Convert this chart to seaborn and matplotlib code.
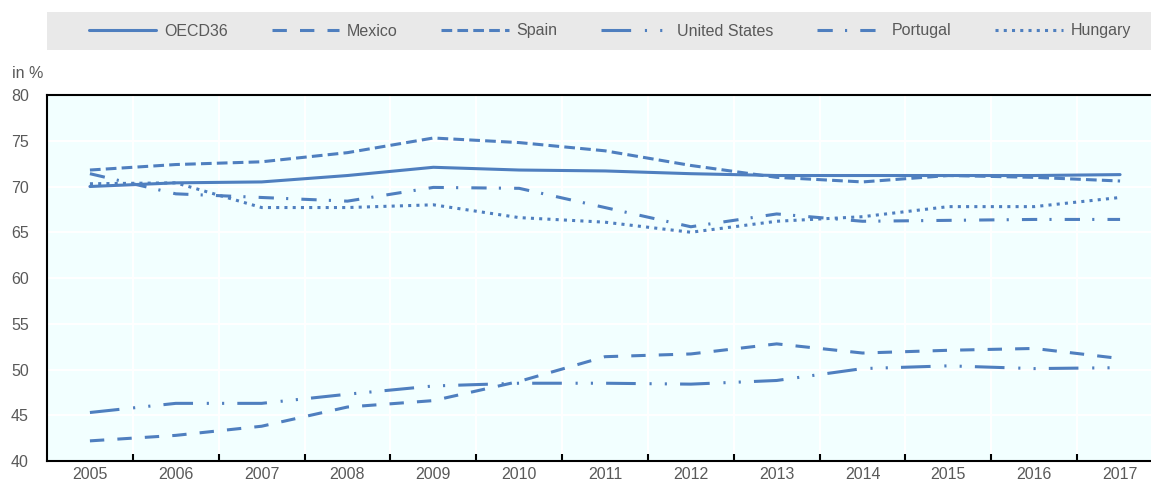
import matplotlib
matplotlib.use("Agg")
import matplotlib.pyplot as plt
from matplotlib.patches import Rectangle
import numpy as np
import pandas as pd
import seaborn as sns

sns.set_theme(style="white")
plt.rcParams['font.family'] = ['Liberation Sans', 'DejaVu Sans']

# values (in %)
years = [2005, 2006, 2007, 2008, 2009, 2010, 2011, 2012, 2013, 2014, 2015, 2016, 2017]
countries = ["OECD36", "Mexico", "Spain", "United States", "Portugal", "Hungary"]
oecd36 = [70.0, 70.4, 70.5, 71.2, 72.1, 71.8, 71.7, 71.4, 71.2, 71.2, 71.2, 71.2, 71.3]
mexico = [42.2, 42.8, 43.8, 45.9, 46.6, 48.7, 51.4, 51.7, 52.8, 51.8, 52.1, 52.3, 51.2]
spain = [71.8, 72.4, 72.7, 73.7, 75.3, 74.8, 73.9, 72.3, 71.0, 70.5, 71.2, 71.0, 70.6]
united_states = [45.3, 46.3, 46.3, 47.3, 48.2, 48.5, 48.5, 48.4, 48.8, 50.1, 50.4, 50.1, 50.2]
portugal = [71.4, 69.2, 68.8, 68.4, 69.9, 69.8, 67.7, 65.6, 67.0, 66.2, 66.3, 66.4, 66.4]
hungary = [70.3, 70.4, 67.7, 67.7, 68.0, 66.6, 66.1, 65.0, 66.2, 66.7, 67.8, 67.8, 68.8]
series = [oecd36, mexico, spain, united_states, portugal, hungary]

rows = []
for name, vals in zip(countries, series):
    for yr, v in zip(years, vals):
        rows.append([name, yr, v])
df = pd.DataFrame(rows, columns=["Country", "Year", "Value"])

line_color = "#4F7FBF"
text_color = "#595959"
dash_map = {
    "OECD36": "",
    "Mexico": (4.7, 4.3),
    "Spain": (3.5, 1.7),
    "United States": (9.7, 4.5, 0.7, 4.3, 0.7, 4.3),
    "Portugal": (5, 4, 0.7, 4.3),
    "Hungary": (1, 1.7),
}

W, H = 1151, 480
fig = plt.figure(figsize=(W / 100, H / 100), dpi=100)
ax = fig.add_axes([47 / W, 19 / H, 1116 / W, 366 / H])
ax.set_facecolor("#F2FFFF")

# grey band behind the legend
fig.patches.append(Rectangle((47 / W, 1 - 50 / H), 1, 38 / H, transform=fig.transFigure,
                             facecolor="#E9E9E9", edgecolor="none", zorder=0))

sns.lineplot(data=df, x="Year", y="Value", style="Country", style_order=countries,
             dashes=dash_map, color=line_color, linewidth=2.2, ax=ax)

leg = ax.get_legend()
handles = leg.legend_handles
labels = [t.get_text() for t in leg.get_texts()]
leg.remove()
for h in handles:
    h.set_color(line_color)
    h.set_linewidth(2.2)

fig.legend(handles, labels, ncol=6, loc="center left", bbox_to_anchor=(89 / W, 1 - 31 / H),
           frameon=False, handlelength=4.2, handletextpad=0.5, columnspacing=2.75,
           fontsize=11.5, borderpad=0, borderaxespad=0, labelcolor=text_color)

ax.set_xlim(years[0] - 0.5, years[-1] + 0.5)
ax.set_ylim(40, 80)
ax.set_xticks(years)
ax.set_xticks([y + 0.5 for y in years[:-1]], minor=True)
ax.set_yticks(np.arange(40, 81, 5))
ax.set_xlabel("")
ax.set_ylabel("")

ax.tick_params(axis="x", which="major", length=0, pad=4, labelsize=11.5, labelcolor=text_color)
ax.tick_params(axis="x", which="minor", bottom=True, length=5, width=1.5, direction="in", color="black")
ax.tick_params(axis="y", length=0, pad=13, labelsize=11.5, labelcolor=text_color)

ax.grid(False)
ax.grid(axis="x", which="minor", color="white", lw=1.5)
ax.grid(axis="y", which="major", color="white", lw=1.5)
ax.set_axisbelow(True)

for side in ["left", "top", "bottom"]:
    ax.spines[side].set_color("black")
    ax.spines[side].set_linewidth(1.5)
ax.spines["right"].set_visible(False)

fig.text(12 / W, 1 - 74 / H, "in %", ha="left", va="center", fontsize=11.5, color=text_color)

fig.savefig("out.png", dpi=100)
